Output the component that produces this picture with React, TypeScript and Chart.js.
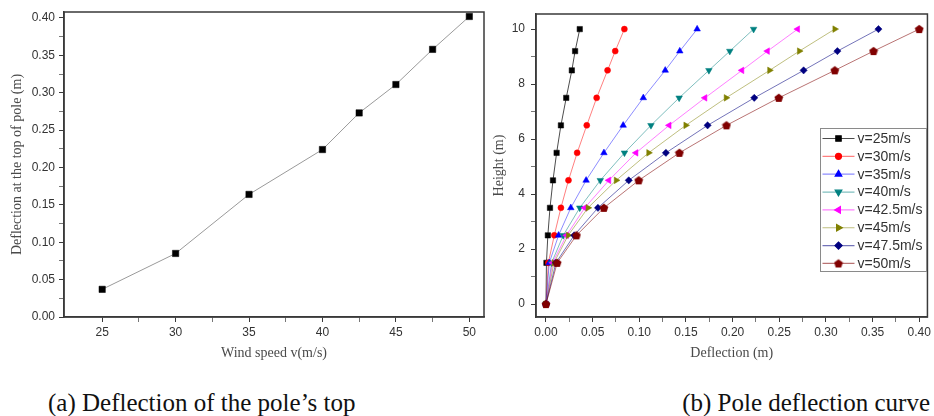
import React, { useEffect, useRef } from 'react';
import { Chart, registerables } from 'chart.js';
import { drawPoint } from 'chart.js/helpers';

Chart.register(...registerables);

// ---------- (a) deflection of the pole's top ----------
const windSpeeds = [25, 30, 35, 40, 42.5, 45, 47.5, 50];
const topDeflection = [0.037, 0.085, 0.164, 0.224, 0.273, 0.311, 0.358, 0.402];
const leftXMajor = [25, 30, 35, 40, 45, 50];
const leftXMinor = [27.5, 32.5, 37.5, 42.5, 47.5];
const leftYMajor = [0, 0.05, 0.1, 0.15, 0.2, 0.25, 0.3, 0.35, 0.4];
const leftYMinor = [0.025, 0.075, 0.125, 0.175, 0.225, 0.275, 0.325, 0.375];

// ---------- (b) pole deflection curves ----------
const heights = [0, 1.5, 2.5, 3.5, 4.5, 5.5, 6.5, 7.5, 8.5, 9.2, 10];
const defl25 = [0, 0.0005, 0.002, 0.0043, 0.0075, 0.0114, 0.016, 0.0217, 0.0277, 0.0312, 0.0362];
const defl30 = [0, 0.0025, 0.0089, 0.016, 0.0241, 0.0334, 0.0437, 0.0543, 0.066, 0.0742, 0.084];
const defl35 = [0, 0.0035, 0.0135, 0.0266, 0.043, 0.0621, 0.0827, 0.1043, 0.1278, 0.1434, 0.162];
const defl40 = [0, 0.006, 0.0185, 0.0362, 0.0582, 0.0841, 0.1125, 0.1427, 0.1746, 0.197, 0.2225];
const defl425 = [0, 0.007, 0.022, 0.0415, 0.0674, 0.0965, 0.132, 0.1704, 0.21, 0.2374, 0.2697];
const defl45 = [0, 0.0085, 0.0238, 0.045, 0.0752, 0.11, 0.1498, 0.193, 0.2396, 0.2715, 0.3095];
const defl475 = [0, 0.0106, 0.0302, 0.0557, 0.0887, 0.1285, 0.1732, 0.2232, 0.2761, 0.3123, 0.3563];
const defl50 = [0, 0.012, 0.0327, 0.0621, 0.0994, 0.143, 0.1934, 0.2495, 0.3095, 0.351, 0.4];
const seriesLabels = ['v=25m/s', 'v=30m/s', 'v=35m/s', 'v=40m/s', 'v=42.5m/s', 'v=45m/s', 'v=47.5m/s', 'v=50m/s'];
const seriesValues = [defl25, defl30, defl35, defl40, defl425, defl45, defl475, defl50];
const rightXMajor = [0, 0.05, 0.1, 0.15, 0.2, 0.25, 0.3, 0.35, 0.4];
const rightXMinor = [0.025, 0.075, 0.125, 0.175, 0.225, 0.275, 0.325, 0.375];
const rightYMajor = [0, 2, 4, 6, 8, 10];
const rightYMinor = [1, 3, 5, 7, 9];

// styles
const markerColors = ['#000000', '#ff0000', '#0000ff', '#008080', '#ff00ff', '#808000', '#000080', '#800000'];
const lineColors = [
  'rgba(0,0,0,0.7)', 'rgba(255,0,0,0.5)', 'rgba(0,0,255,0.45)', 'rgba(0,128,128,0.5)',
  'rgba(255,0,255,0.5)', 'rgba(128,128,0,0.5)', 'rgba(0,0,128,0.55)', 'rgba(128,0,0,0.55)',
];
const markerStyles = ['rect', 'circle', 'triangle', 'triangle', 'triangle', 'triangle', 'rectRot', 'pentagon'];
const markerRotations = [0, 0, 0, 180, -90, 90, 0, 0];
const markerRadii = [3.8, 3, 3.8, 3.8, 3.8, 3.8, 3.6, 4];

const TICK_FONT = { family: '"Liberation Sans", Arial, sans-serif', size: 12 };
const TITLE_FONT = { family: '"Liberation Serif", "Times New Roman", serif', size: 14 };
const AXIS_COLOR = '#3a3a3a';

function makePentagon(color: string) {
  const c = document.createElement('canvas');
  c.width = 10;
  c.height = 10;
  const g = c.getContext('2d')!;
  g.fillStyle = color;
  g.beginPath();
  for (let k = 0; k < 5; k++) {
    const a = -Math.PI / 2 + (k * 2 * Math.PI) / 5;
    const px = 5 + Math.cos(a) * 4.6;
    const py = 5.4 + Math.sin(a) * 4.6;
    if (k === 0) g.moveTo(px, py);
    else g.lineTo(px, py);
  }
  g.closePath();
  g.fill();
  return c;
}

const framePlugin = {
  id: 'frame',
  beforeDatasetsDraw(chart: any) {
    const { ctx, chartArea } = chart;
    const { left, top, right, bottom } = chartArea;
    ctx.save();
    ctx.strokeStyle = AXIS_COLOR;
    ctx.lineWidth = 1.5;
    ctx.strokeRect(left, top, right - left, bottom - top);
    ctx.restore();
  },
};

const boxLegendPlugin = {
  id: 'boxLegend',
  afterDraw(chart: any) {
    const { ctx, chartArea } = chart;
    const w = 106;
    const h = 143;
    const x0 = Math.round(chartArea.right - w - 1) + 0.5;
    const y0 = 128.5;
    ctx.save();
    ctx.fillStyle = '#ffffff';
    ctx.fillRect(x0, y0, w, h);
    ctx.strokeStyle = '#8a8a8a';
    ctx.lineWidth = 1;
    ctx.strokeRect(x0, y0, w, h);
    chart.data.datasets.forEach((ds: any, i: number) => {
      const y = y0 + 10 + i * 17.85;
      ctx.strokeStyle = ds.borderColor;
      ctx.lineWidth = 1.2;
      ctx.beginPath();
      ctx.moveTo(x0 + 2, y);
      ctx.lineTo(x0 + 34, y);
      ctx.stroke();
      ctx.fillStyle = ds.pointBackgroundColor;
      ctx.strokeStyle = ds.pointBorderColor;
      drawPoint(ctx, {
        pointStyle: ds.pointStyle,
        rotation: ds.pointRotation || 0,
        radius: ds.pointRadius,
        borderWidth: ds.pointBorderWidth,
      } as any, x0 + 18, y);
      ctx.fillStyle = '#333333';
      ctx.font = '14px "Liberation Sans", Arial, sans-serif';
      ctx.textBaseline = 'middle';
      ctx.textAlign = 'left';
      ctx.fillText(ds.label, x0 + 37, y + 0.5);
    });
    ctx.restore();
  },
};

function axis(
  min: number, max: number, major: number[], minor: number[],
  fmt: (v: number) => string, title: string, titlePad: any, fitSize: number,
  horizontal: boolean, labelPad: number,
) {
  const all = [...major, ...minor].sort((a, b) => a - b);
  return {
    type: 'linear',
    min,
    max,
    afterBuildTicks: (scale: any) => {
      scale.ticks = all.map((v) => ({ value: v }));
    },
    afterFit: (scale: any) => {
      if (horizontal) scale.height = fitSize;
      else scale.width = fitSize;
    },
    ticks: {
      autoSkip: false,
      maxRotation: 0,
      padding: labelPad,
      color: '#333333',
      font: TICK_FONT,
      callback: (v: any) => (major.includes(v) ? fmt(v) : ''),
    },
    grid: {
      drawOnChartArea: false,
      drawTicks: true,
      tickLength: 5,
      tickColor: (ctx: any) => (ctx.tick && major.includes(ctx.tick.value) ? AXIS_COLOR : '#777777'),
      tickWidth: 1,
    },
    border: { display: true, color: AXIS_COLOR, width: 1.5 },
    title: {
      display: true,
      text: title,
      color: '#4a4a4a',
      font: TITLE_FONT,
      padding: titlePad,
    },
  };
}

function LeftChart() {
  const ref = useRef<HTMLCanvasElement>(null);
  useEffect(() => {
    const chart = new Chart(ref.current!, {
      type: 'scatter',
      data: {
        datasets: [
          {
            label: 'Deflection at the top of pole',
            data: windSpeeds.map((x, i) => ({ x, y: topDeflection[i] })),
            showLine: true,
            borderColor: '#9a9a9a',
            borderWidth: 1,
            pointStyle: 'rect',
            pointRadius: 4.5,
            pointBackgroundColor: '#000000',
            pointBorderColor: '#000000',
            pointBorderWidth: 0.5,
            clip: 10,
          } as any,
        ],
      },
      options: {
        animation: false,
        responsive: false,
        devicePixelRatio: 1,
        layout: { padding: { top: 12, right: 16, left: 0, bottom: 0 } },
        plugins: { legend: { display: false }, tooltip: { enabled: false } },
        scales: {
          x: axis(22.4, 51.0, leftXMajor, leftXMinor, (v) => String(v), 'Wind speed v(m/s)',
            { top: 4, bottom: 8.6 }, 53, true, 3) as any,
          y: axis(0, 0.408, leftYMajor, leftYMinor, (v) => v.toFixed(2), 'Deflection at the top of pole (m)',
            { top: 8.6, bottom: 4 }, 64, false, 4) as any,
        },
      },
      plugins: [framePlugin],
    });
    return () => chart.destroy();
  }, []);
  return <canvas ref={ref} width={500} height={370} style={{ position: 'absolute', left: 0, top: 0 }} />;
}

function RightChart() {
  const ref = useRef<HTMLCanvasElement>(null);
  useEffect(() => {
    const pentagon = makePentagon(markerColors[7]);
    const datasets = seriesValues.map((vals, i) => ({
      label: seriesLabels[i],
      data: vals.map((x, j) => ({ x, y: heights[j] })),
      showLine: true,
      borderColor: lineColors[i],
      borderWidth: 1,
      pointStyle: markerStyles[i] === 'pentagon' ? pentagon : markerStyles[i],
      pointRotation: markerRotations[i],
      pointRadius: markerRadii[i],
      pointBackgroundColor: markerColors[i],
      pointBorderColor: markerColors[i],
      pointBorderWidth: 0.5,
      order: seriesValues.length - i,
      clip: 10,
    }));
    const chart = new Chart(ref.current!, {
      type: 'scatter',
      data: { datasets: datasets as any },
      options: {
        animation: false,
        responsive: false,
        devicePixelRatio: 1,
        layout: { padding: { top: 14, right: 4, left: 0, bottom: 0 } },
        plugins: { legend: { display: false }, tooltip: { enabled: false } },
        scales: {
          x: axis(-0.0107, 0.4088, rightXMajor, rightXMinor, (v) => v.toFixed(2), 'Deflection (m)',
            { top: 4, bottom: 8.6 }, 53, true, 3) as any,
          y: axis(-0.47, 10.55, rightYMajor, rightYMinor, (v) => String(v), 'Height (m)',
            { top: 4.6, bottom: 4 }, 50, false, 6) as any,
        },
      },
      plugins: [framePlugin, boxLegendPlugin],
    });
    return () => chart.destroy();
  }, []);
  return <canvas ref={ref} width={448} height={370} style={{ position: 'absolute', left: 486, top: 0 }} />;
}

const captionStyle: React.CSSProperties = {
  position: 'absolute',
  top: 390,
  fontFamily: '"Liberation Serif", "Times New Roman", serif',
  fontSize: 25,
  lineHeight: '25px',
  color: '#111111',
  whiteSpace: 'nowrap',
};

export default function App() {
  return (
    <div
      style={{
        position: 'fixed',
        left: 0,
        top: 0,
        width: 934,
        height: 416,
        background: '#ffffff',
        overflow: 'hidden',
      }}
    >
      <LeftChart />
      <RightChart />
      <div style={{ ...captionStyle, left: 48 }}>(a) Deflection of the pole’s top</div>
      <div style={{ ...captionStyle, right: 4 }}>(b) Pole deflection curve</div>
    </div>
  );
}
